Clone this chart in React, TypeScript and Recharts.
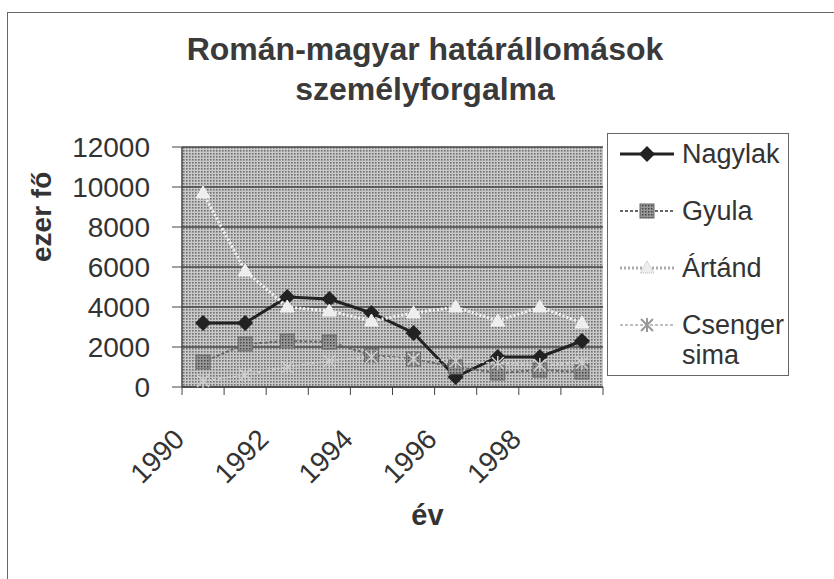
import { LineChart, Line, XAxis, YAxis, CartesianGrid, Legend } from 'recharts';

const years = [1990, 1991, 1992, 1993, 1994, 1995, 1996, 1997, 1998, 1999];
const nagylak = [3200, 3200, 4500, 4400, 3700, 2700, 500, 1500, 1500, 2300];
const gyula = [1250, 2150, 2300, 2250, 1600, 1400, 1000, 700, 850, 750];
const artand = [9700, 5800, 4000, 3800, 3300, 3700, 4000, 3300, 4000, 3200];
const csenger = [300, 600, 1000, 1300, 1500, 1400, 1300, 1200, 1100, 1200];

const seriesNames = ['Nagylak', 'Gyula', 'Ártánd', 'Csenger sima'];
const yTicks = [0, 2000, 4000, 6000, 8000, 10000, 12000];
// category boundaries, labels every second year
const xTicks = [1989.5, 1990.5, 1991.5, 1992.5, 1993.5, 1994.5, 1995.5, 1996.5, 1997.5, 1998.5, 1999.5];

const data = years.map((year, i) => ({
  year,
  nagylak: nagylak[i],
  gyula: gyula[i],
  artand: artand[i],
  csenger: csenger[i],
}));

const FONT = 'Arial, "Liberation Sans", sans-serif';
const TEXT = '#333';

const Diamond = ({ cx, cy }: any) => (
  <polygon points={`${cx},${cy - 8} ${cx + 8},${cy} ${cx},${cy + 8} ${cx - 8},${cy}`} fill="#222" />
);
const Square = ({ cx, cy }: any) => (
  <rect x={cx - 7} y={cy - 7} width={14} height={14} fill="url(#hatch)" stroke="#666" strokeWidth={1} />
);
const Triangle = ({ cx, cy }: any) => (
  <polygon points={`${cx},${cy - 7} ${cx + 7},${cy + 5} ${cx - 7},${cy + 5}`} fill="#eee" stroke="#f4f4f4" />
);
const Star = ({ cx, cy }: any) => (
  <path d={`M${cx - 6},${cy - 6}L${cx + 6},${cy + 6}M${cx - 6},${cy + 6}L${cx + 6},${cy - 6}M${cx},${cy - 7}L${cx},${cy + 7}`} stroke="#cfcfcf" strokeWidth={1.5} />
);

const series = [
  { key: 'nagylak', name: seriesNames[0], stroke: '#222', width: 3, dash: undefined, Dot: Diamond },
  { key: 'gyula', name: seriesNames[1], stroke: '#666', width: 2, dash: '3 2', Dot: Square },
  { key: 'artand', name: seriesNames[2], stroke: '#f2f2f2', width: 3, dash: '2 2', Dot: Triangle },
  { key: 'csenger', name: seriesNames[3], stroke: '#cfcfcf', width: 1.5, dash: '3 2', Dot: Star },
];

const XTick = ({ x, y, payload }: any) => {
  const idx = xTicks.indexOf(payload.value);
  if (idx % 2 !== 0 || idx === xTicks.length - 1) return null;
  const label = String(payload.value + 0.5);
  return (
    <text
      x={x + 4}
      y={y + 44}
      transform={`rotate(-45 ${x + 4} ${y + 44})`}
      textAnchor="end"
      fontFamily={FONT}
      fontSize={28}
      fill={TEXT}
    >
      {label}
    </text>
  );
};

const LegendBox = () => (
  <div
    style={{
      width: 182,
      height: 243,
      border: '1px solid #666',
      boxSizing: 'border-box',
      background: '#fff',
      fontFamily: FONT,
      fontSize: 27,
      color: TEXT,
      position: 'relative',
    }}
  >
    {series.map((s, i) => (
      <div key={s.key} style={{ position: 'absolute', left: 10, top: 5 + i * 57, display: 'flex', alignItems: 'flex-start' }}>
        <svg width={58} height={30} style={{ flex: 'none' }}>
          <line x1={2} y1={15} x2={56} y2={15} stroke={s.key === 'artand' || s.key === 'csenger' ? '#aaa' : s.stroke} strokeWidth={s.width} strokeDasharray={s.dash} />
          {s.key === 'nagylak' && <Diamond cx={29} cy={15} />}
          {s.key === 'gyula' && <Square cx={29} cy={15} />}
          {s.key === 'artand' && <polygon points="29,8 36,20 22,20" fill="#eee" stroke="#bbb" strokeDasharray="1 1" />}
          {s.key === 'csenger' && (
            <path d="M23,9L35,21M23,21L35,9M29,8L29,22" stroke="#999" strokeWidth={2} />
          )}
        </svg>
        <span style={{ marginLeft: 6, lineHeight: '30px', width: 105 }}>{s.name}</span>
      </div>
    ))}
  </div>
);

export default function App() {
  return (
    <div style={{ position: 'absolute', left: 0, top: 0, width: 834, height: 579, overflow: 'hidden', background: '#fff' }}>
      <div
        style={{
          position: 'absolute',
          left: 7,
          top: 12,
          width: 900,
          height: 700,
          border: '1px solid #666',
        }}
      />
      <div
        style={{
          position: 'absolute',
          left: 0,
          top: 29,
          width: 850,
          textAlign: 'center',
          fontFamily: FONT,
          fontWeight: 'bold',
          fontSize: 32,
          lineHeight: '40px',
          color: '#3a3a3a',
        }}
      >
        Román-magyar határállomások
        <br />
        személyforgalma
      </div>
      <div style={{ position: 'absolute', left: 0, top: 0 }}>
        <LineChart
          width={834}
          height={579}
          data={data}
          margin={{ top: 147, right: 231, bottom: 0, left: 0 }}
        >
          <defs>
            <pattern id="dots" width={3} height={3} patternUnits="userSpaceOnUse">
              <rect width={3} height={3} fill="#c9c9c9" />
              <rect width={1.6} height={1.6} fill="#6f6f6f" />
            </pattern>
            <pattern id="hatch" width={3} height={3} patternUnits="userSpaceOnUse">
              <rect width={3} height={3} fill="#999" />
              <rect width={1.5} height={1.5} fill="#444" />
            </pattern>
          </defs>
          <CartesianGrid
            horizontal
            vertical={false}
            fill="url(#dots)"
            stroke="#444"
            strokeWidth={1.5}
            fillOpacity={1}
          />
          <XAxis
            dataKey="year"
            type="number"
            domain={[1989.5, 1999.5]}
            ticks={xTicks}
            interval={0}
            height={192}
            tickSize={8}
            tickMargin={2}
            tick={<XTick />}
            stroke="#444"
            tickLine={{ stroke: '#444' }}
            axisLine={{ stroke: '#444', strokeWidth: 1.5 }}
            label={{
              value: 'év',
              position: 'insideTop',
              dx: 35,
              dy: 112,
              fontFamily: FONT,
              fontSize: 29,
              fontWeight: 'bold',
              fill: TEXT,
            }}
          />
          <YAxis
            domain={[0, 12000]}
            ticks={yTicks}
            interval={0}
            width={182}
            tickSize={10}
            tickMargin={22}
            tick={{ fontFamily: FONT, fontSize: 28, fill: TEXT }}
            axisLine={{ stroke: '#444', strokeWidth: 1.5 }}
            tickLine={{ stroke: '#444' }}
            label={{
              value: 'ezer fő',
              angle: -90,
              position: 'insideLeft',
              dx: 36,
              dy: -5,
              fontFamily: FONT,
              fontSize: 28,
              fontWeight: 'bold',
              fill: TEXT,
            }}
          />
          <Legend
            layout="vertical"
            align="center"
            verticalAlign="middle"
            wrapperStyle={{ position: 'absolute', left: 607, top: 133, width: 184, height: 243 }}
            content={() => <LegendBox />}
          />
          {series.map((s) => (
            <Line
              key={s.key}
              dataKey={s.key}
              name={s.name}
              type="linear"
              stroke={s.stroke}
              strokeWidth={s.width}
              strokeDasharray={s.dash}
              dot={<s.Dot />}
              activeDot={false}
              isAnimationActive={false}
            />
          ))}
        </LineChart>
      </div>
    </div>
  );
}
